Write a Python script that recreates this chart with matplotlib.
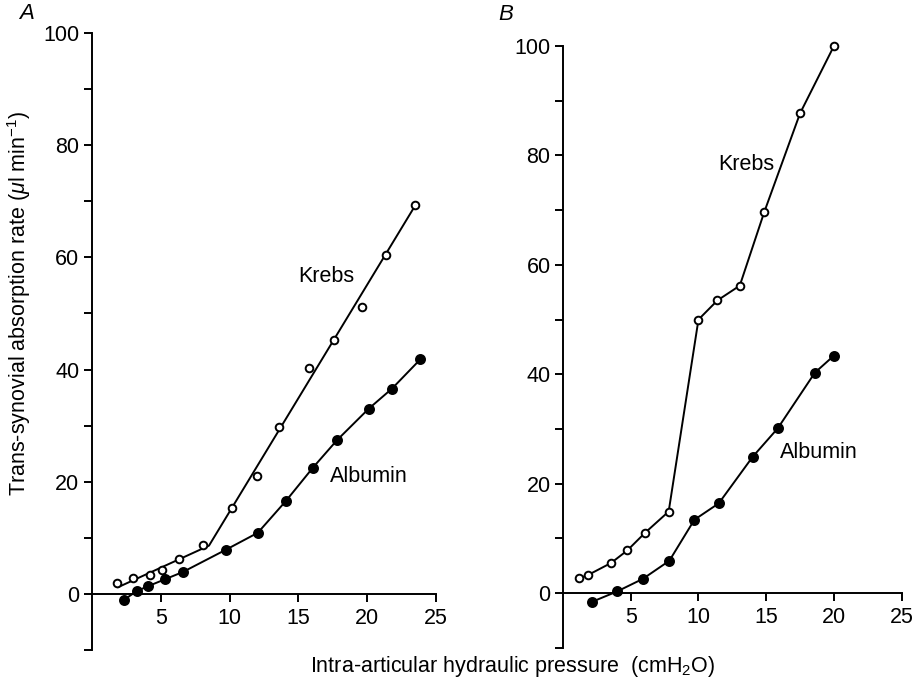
import matplotlib
matplotlib.use("Agg")
import matplotlib.pyplot as plt

plt.rcParams['font.family'] = ['Liberation Sans', 'DejaVu Sans']
plt.rcParams['mathtext.fontset'] = 'custom'
plt.rcParams['mathtext.rm'] = 'Liberation Sans'
plt.rcParams['mathtext.it'] = 'Liberation Sans:italic'

# Panel A data
a_krebs_x = [1.8, 3.0, 4.25, 5.1, 6.35, 8.1, 10.2, 12.0, 13.6, 15.8, 17.6, 19.6, 21.35, 23.5]
a_krebs_y = [1.9, 2.8, 3.4, 4.2, 6.3, 8.8, 15.3, 21.0, 29.8, 40.2, 45.2, 51.1, 60.5, 69.3]
# fitted line through Krebs points (two segments)
a_krebs_fit_x = [1.9, 8.5, 23.5]
a_krebs_fit_y = [1.2, 8.6, 69.3]
a_alb_x = [2.3, 3.25, 4.1, 5.3, 6.6, 9.75, 12.05, 14.1, 16.05, 17.8, 20.1, 21.8, 23.85]
a_alb_y = [-1.1, 0.5, 1.4, 2.6, 3.9, 7.9, 10.9, 16.6, 22.5, 27.4, 33.0, 36.6, 41.8]

# Panel B data
b_krebs_x = [1.2, 1.85, 3.55, 4.75, 6.05, 7.8, 10.0, 11.4, 13.05, 14.85, 17.5, 20.0]
b_krebs_y = [2.7, 3.3, 5.5, 7.8, 11.0, 14.9, 50.0, 53.5, 56.2, 69.6, 87.7, 100.0]
b_alb_x = [2.15, 4.0, 5.9, 7.85, 9.7, 11.5, 14.0, 15.85, 18.6, 20.0]
b_alb_y = [-1.6, 0.3, 2.6, 5.9, 13.4, 16.4, 24.9, 30.1, 40.3, 43.4]

x_ticks = [5, 10, 15, 20, 25]
y_ticks = [-10, 0, 10, 20, 30, 40, 50, 60, 70, 80, 90, 100]
y_labels = ['', '0', '', '20', '', '40', '', '60', '', '80', '', '100']

FS = 15.5

fig = plt.figure(figsize=(9.2, 6.86), dpi=100)
axA = fig.add_axes([0.100, 0.0525, 0.374, 0.8995])
axB = fig.add_axes([0.612, 0.0558, 0.368, 0.877])


def style_axes(ax):
    ax.set_xlim(0, 25)
    ax.set_ylim(-10, 100)
    ax.spines['top'].set_visible(False)
    ax.spines['right'].set_visible(False)
    ax.spines['bottom'].set_position(('data', 0))
    ax.spines['left'].set_linewidth(1.4)
    ax.spines['bottom'].set_linewidth(1.4)
    ax.set_xticks(x_ticks)
    ax.set_yticks(y_ticks)
    ax.set_yticklabels(y_labels)
    ax.tick_params(direction='out', length=6, width=1.4, labelsize=FS)
    ax.tick_params(axis='x', pad=4)
    ax.tick_params(axis='y', pad=3)
    ax.patch.set_visible(False)


def draw(ax, x, y, filled, fit_x=None, fit_y=None):
    if fit_x is not None:
        ax.plot(fit_x, fit_y, color='black', lw=1.4, zorder=2)
        ls = 'none'
    else:
        ls = '-'
    ax.plot(x, y, linestyle=ls, color='black', lw=1.4, marker='o',
            markersize=6.5 if filled else 5.5,
            markerfacecolor='black' if filled else 'white',
            markeredgecolor='black', markeredgewidth=1.4,
            clip_on=False, zorder=3)


style_axes(axA)
draw(axA, a_krebs_x, a_krebs_y, False, a_krebs_fit_x, a_krebs_fit_y)
draw(axA, a_alb_x, a_alb_y, True)
axA.text(17.0, 56.6, 'Krebs', fontsize=FS, ha='center', va='center')
axA.text(20.1, 20.9, 'Albumin', fontsize=FS, ha='center', va='center')

style_axes(axB)
draw(axB, b_krebs_x, b_krebs_y, False)
draw(axB, b_alb_x, b_alb_y, True)
axB.text(13.55, 78.4, 'Krebs', fontsize=FS, ha='center', va='center')
axB.text(18.9, 25.7, 'Albumin', fontsize=FS, ha='center', va='center')

fig.text(0.029, 0.980, 'A', fontsize=16, style='italic', ha='center', va='center')
fig.text(0.550, 0.979, 'B', fontsize=16, style='italic', ha='center', va='center')
fig.text(0.021, 0.558, r'Trans-synovial absorption rate ($\mu$l min$^{-1}$)',
         fontsize=FS, rotation=90, ha='center', va='center')
fig.text(0.557, 0.028, r'Intra-articular hydraulic pressure  (cmH$_2$O)',
         fontsize=FS, ha='center', va='center')

fig.savefig('out.png', dpi=100)
